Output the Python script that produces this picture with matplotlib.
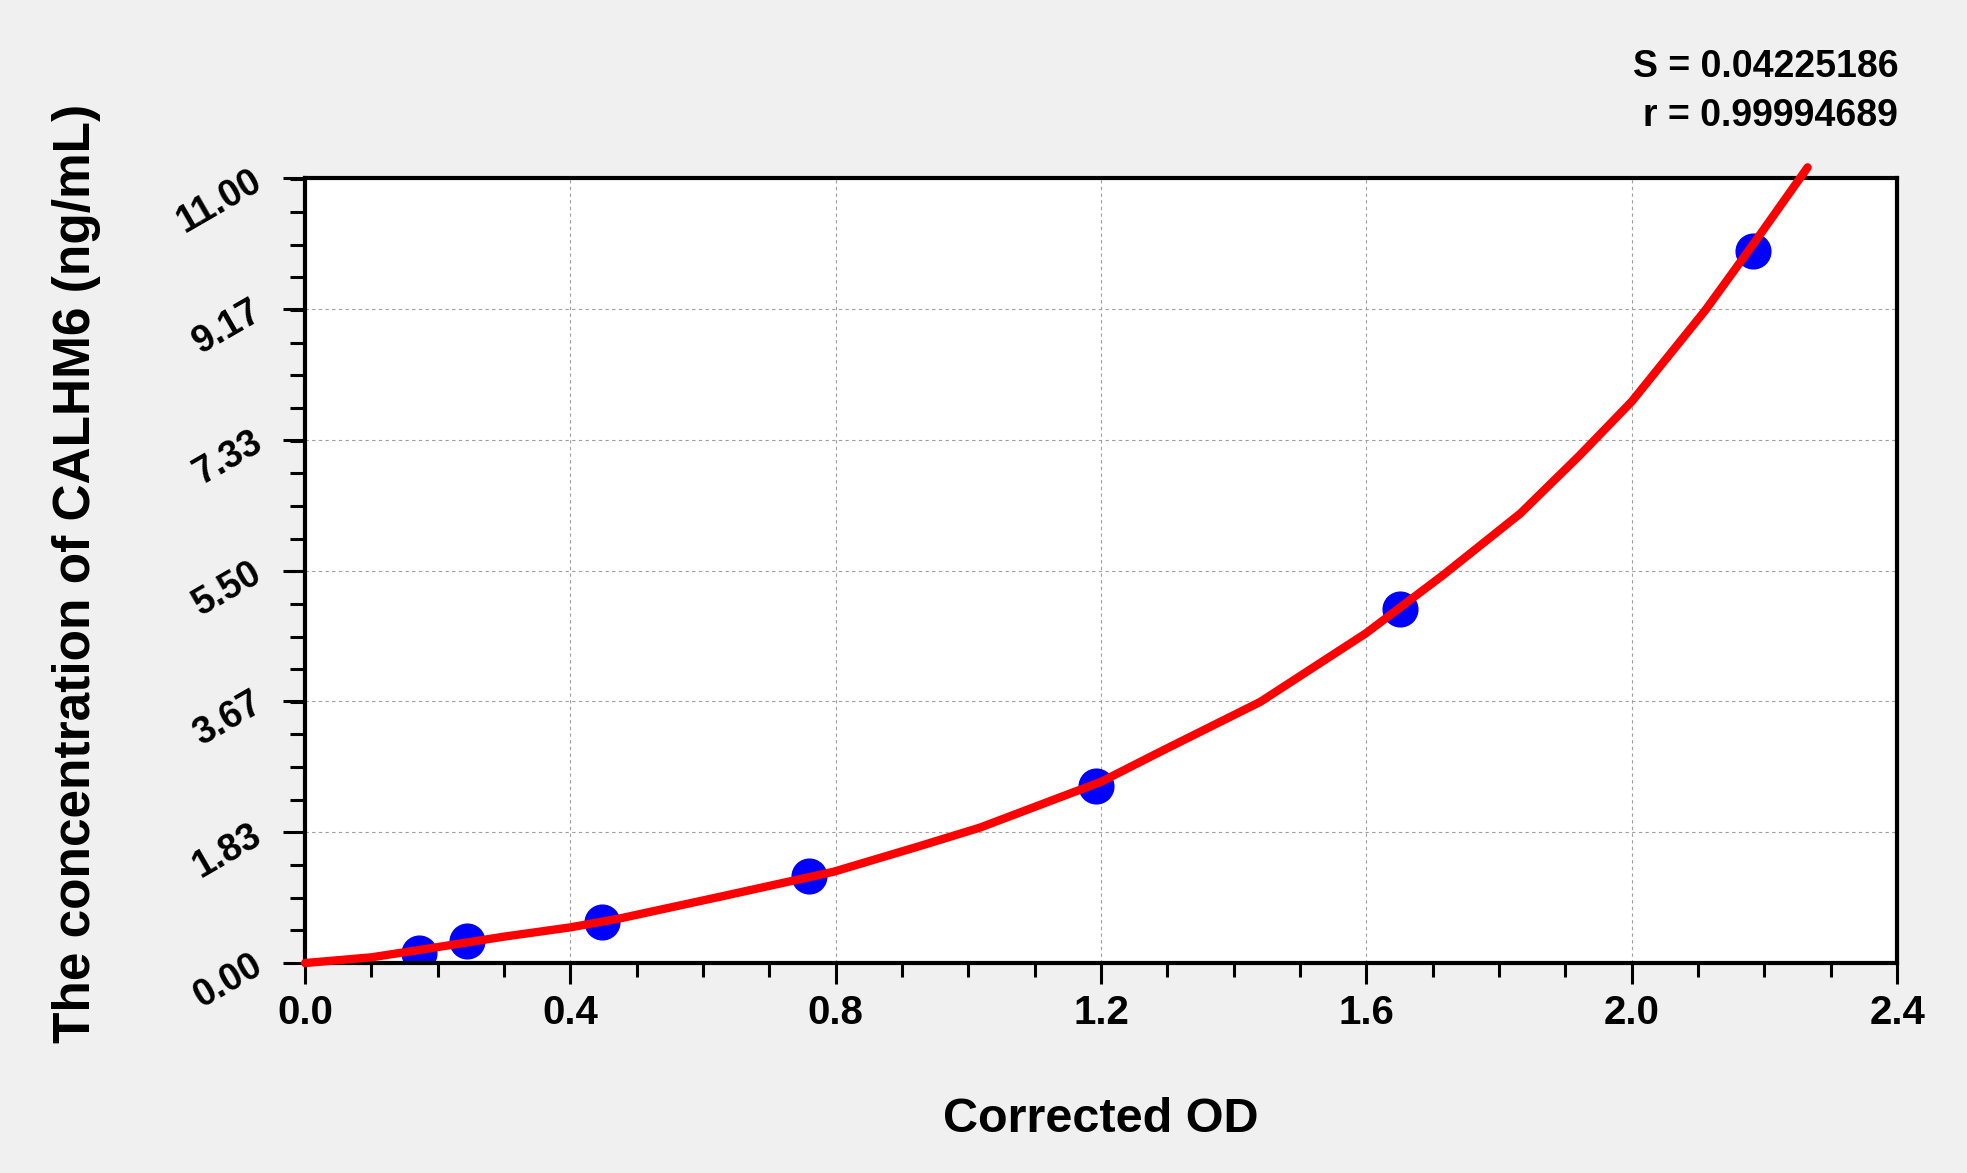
import matplotlib
matplotlib.use('Agg')
import matplotlib.pyplot as plt
from matplotlib.ticker import MultipleLocator, AutoMinorLocator, FixedLocator

plt.rcParams['font.family'] = ['Liberation Sans', 'DejaVu Sans']
plt.rcParams['font.weight'] = 'bold'

# standard points (corrected OD, concentration)
od = [0.172, 0.244, 0.448, 0.759, 1.193, 1.650, 2.182]
conc = [0.14, 0.31, 0.58, 1.22, 2.48, 4.96, 9.98]

# fitted curve
fit_x = [0.0, 0.1, 0.17, 0.3, 0.4, 0.475, 0.626, 0.797, 0.927, 1.018,
         1.2, 1.289, 1.44, 1.599, 1.716, 1.832, 1.922, 2.0, 2.111,
         2.182, 2.265]
fit_y = [0.0, 0.08, 0.18, 0.37, 0.50, 0.626, 0.93, 1.28, 1.64, 1.90,
         2.54, 2.96, 3.66, 4.62, 5.44, 6.30, 7.12, 7.87, 9.15,
         10.06, 11.15]

x_ticks = [0.0, 0.4, 0.8, 1.2, 1.6, 2.0, 2.4]
y_ticks = [0.0, 1.83, 3.67, 5.50, 7.33, 9.17, 11.0]
y_labels = ['0.00', '1.83', '3.67', '5.50', '7.33', '9.17', '11.00']

s_text = 'S = 0.04225186'
r_text = 'r = 0.99994689'

fig = plt.figure(figsize=(19.67, 11.73), dpi=100, facecolor='#f0f0f0')
ax = fig.add_axes([0.1551, 0.1790, 0.8094, 0.6692])
ax.set_facecolor('white')

ax.set_xlim(0, 2.4)
ax.set_ylim(0, 11)
ax.xaxis.set_major_locator(FixedLocator(x_ticks))
ax.xaxis.set_minor_locator(MultipleLocator(0.1))
ax.yaxis.set_major_locator(FixedLocator(y_ticks))
ax.yaxis.set_minor_locator(AutoMinorLocator(4))
ax.set_xticklabels(['%.1f' % v for v in x_ticks])
ax.set_yticklabels(y_labels)

for sp in ax.spines.values():
    sp.set_linewidth(3)
    sp.set_zorder(5)

ax.tick_params(axis='x', which='major', direction='out', length=15, width=2.2,
               labelsize=29, pad=7)
ax.tick_params(axis='x', which='minor', direction='out', length=10, width=2.2)
ax.tick_params(axis='y', which='major', direction='out', length=16, width=2.2,
               labelsize=27, pad=17)
ax.tick_params(axis='y', which='minor', direction='out', length=11, width=2.2)
for lab in ax.get_yticklabels():
    lab.set_rotation(30)
    lab.set_rotation_mode('anchor')
    lab.set_ha('right')
    lab.set_va('center')
    lab.set_fontweight('bold')
for lab in ax.get_xticklabels():
    lab.set_fontweight('bold')

ax.grid(which='major', color='#a0a0a0', linestyle=(0, (3, 3)), linewidth=0.8)

ax.plot(od, conc, 'o', color='#0000ff', markersize=25, zorder=3)
ax.plot(fit_x, fit_y, color='#ff0000', linewidth=6, zorder=6, clip_on=False,
        solid_capstyle='round', solid_joinstyle='round')

fig.text(1101 / 1967, 1 - 1132 / 1173, 'Corrected OD', fontsize=35,
         fontweight='bold', ha='center', va='baseline')
fig.text(90 / 1967, 1 - 573 / 1173, 'The concentration of CALHM6 (ng/mL)',
         fontsize=37, fontweight='bold', rotation=90, rotation_mode='anchor',
         ha='center', va='baseline')

fig.text(0.965, 1 - 77 / 1173, s_text, fontsize=27, fontweight='bold',
         ha='right', va='baseline')
fig.text(0.965, 1 - 126 / 1173, r_text, fontsize=27, fontweight='bold',
         ha='right', va='baseline')

fig.savefig('out.png', dpi=100, facecolor=fig.get_facecolor())
